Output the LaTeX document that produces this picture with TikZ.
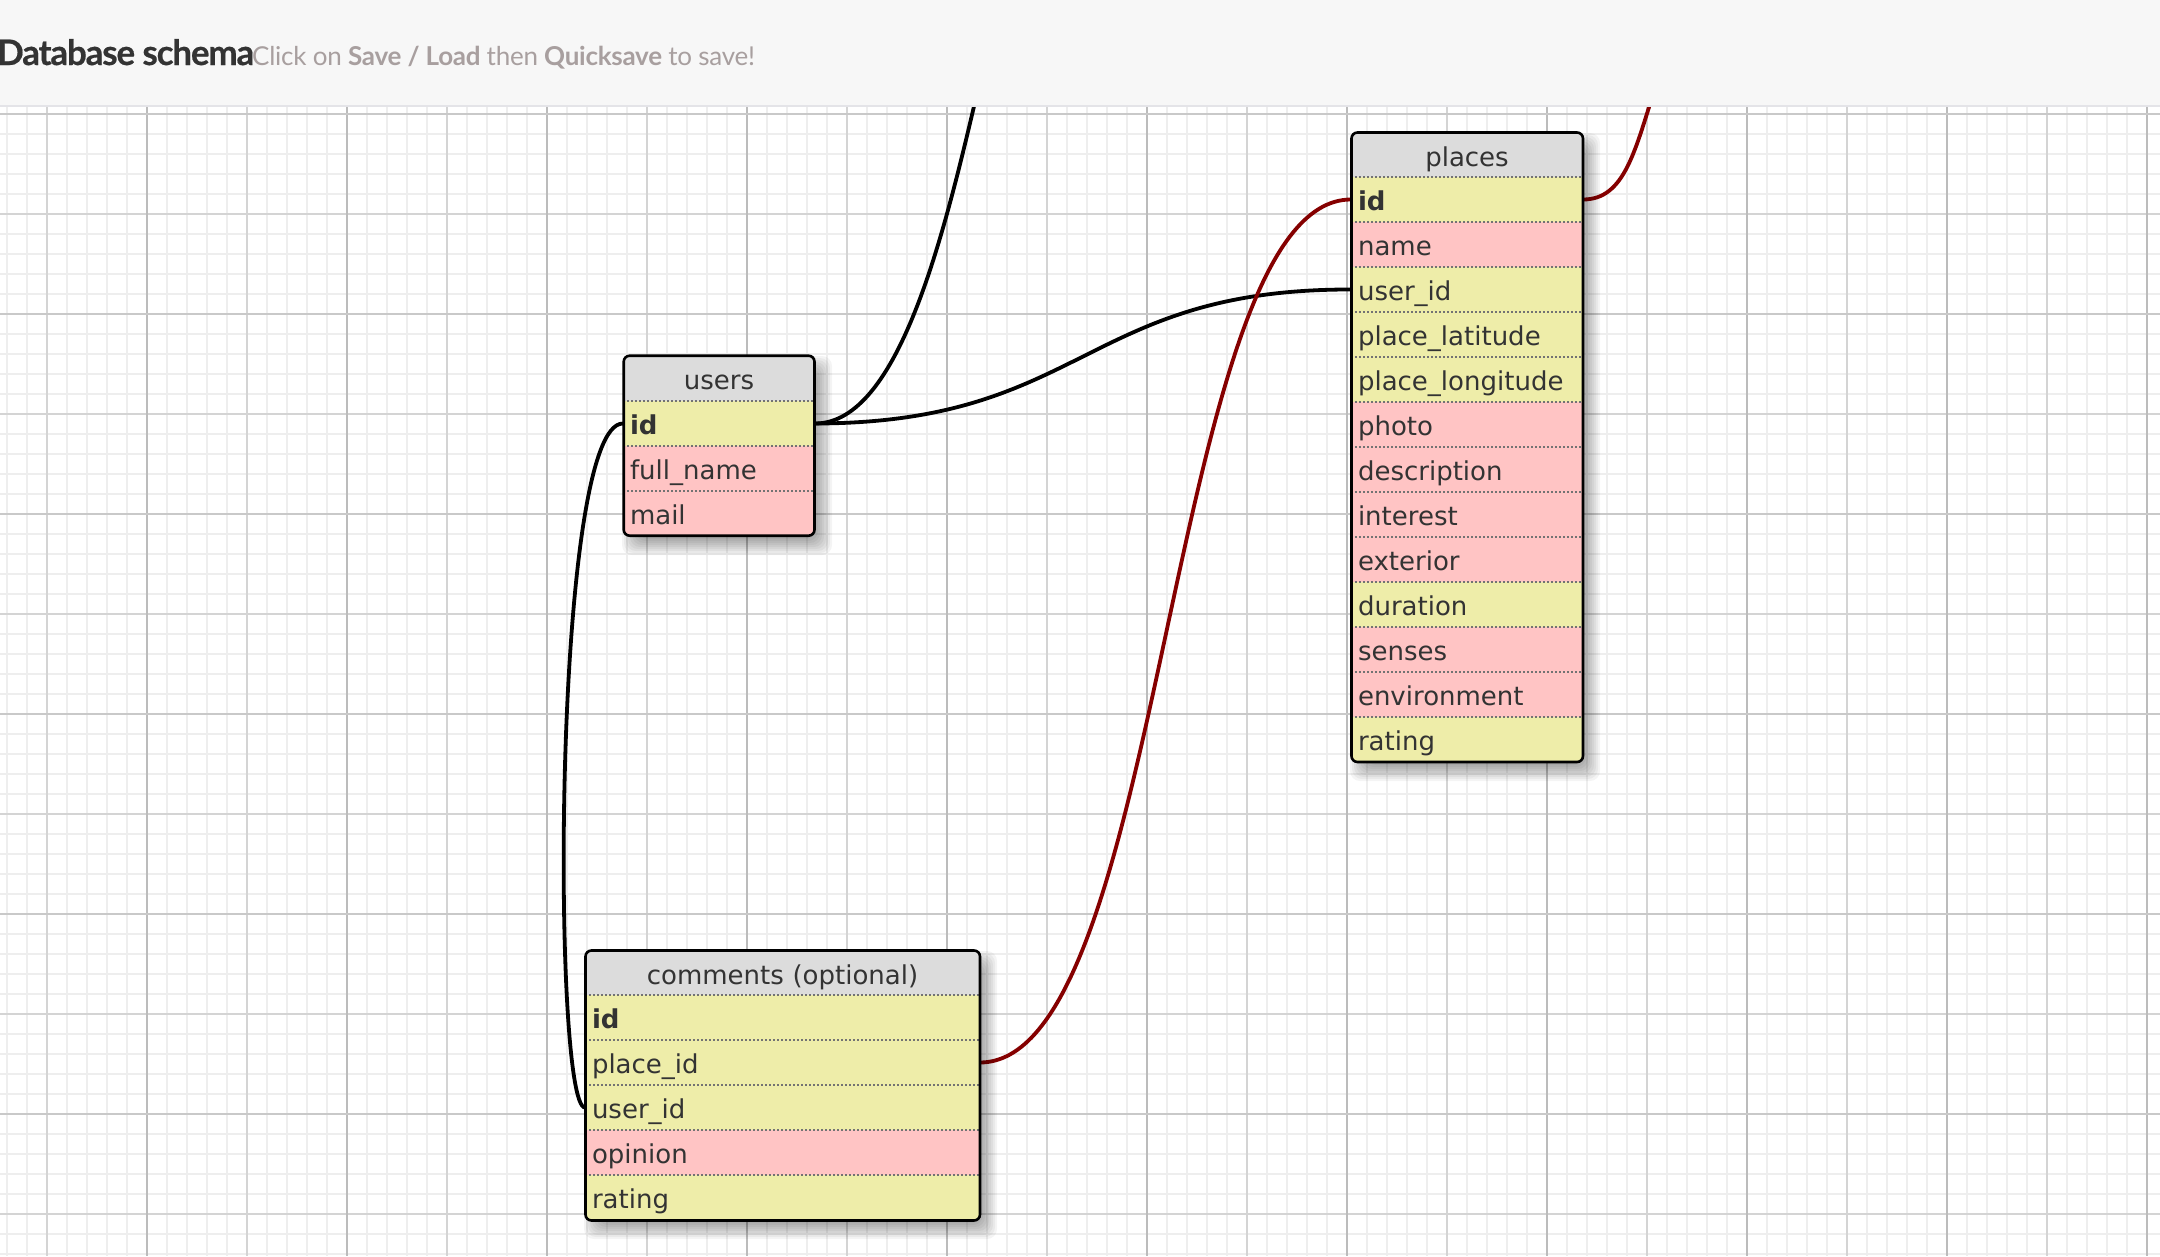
\documentclass[tikz,border=0pt]{standalone}
\usepackage{fontspec}
\setmainfont{DejaVu Sans}
\newfontfamily\titlefont[LetterSpace=-3.4,BoldFeatures={FakeBold=0.5}]{Lato}
\newfontfamily\hintfont[LetterSpace=-1]{Lato}
\definecolor{pagehead}{HTML}{F7F7F7}
\definecolor{headline}{HTML}{E4E4E8}
\definecolor{gridfine}{HTML}{EEEEEE}
\definecolor{gridmid}{HTML}{D4D4D4}
\definecolor{gridmajor}{HTML}{BCBCBC}
\definecolor{rowyellow}{HTML}{EEEDA9}
\definecolor{rowpink}{HTML}{FFC4C4}
\definecolor{rowtitle}{HTML}{DCDCDC}
\definecolor{inktext}{HTML}{333333}
\definecolor{hintgrey}{HTML}{A89F9F}
\definecolor{redlink}{HTML}{850000}
\pgfdeclarelayer{gridlayer}
\pgfdeclarelayer{linklayer}
\pgfdeclarelayer{shadowlayer}
\pgfdeclarelayer{toplayer}
\pgfsetlayers{gridlayer,linklayer,shadowlayer,main,toplayer}
\tikzset{
  cellbase/.style={anchor=north west,inner xsep=7pt,inner ysep=0pt,outer sep=0pt,
    text=inktext,font=\fontsize{26pt}{30pt}\selectfont,text height=33pt,text depth=12pt,
    text width=#1-14pt,align=left},
  yrow/.style={cellbase=#1,fill=rowyellow},
  prow/.style={cellbase=#1,fill=rowpink},
  trow/.style={cellbase=#1,fill=rowtitle,text height=34pt,text depth=12pt,align=center},
  rowrule/.style={draw=gray!90!black,line width=2pt,dash pattern=on 2pt off 2pt},
  tablebox/.style={draw=black,line width=2.6pt,rounded corners=6pt,anchor=north west,
    inner sep=0pt,outer sep=0pt},
  blacklink/.style={draw=black,line width=3.8pt},
  redlinkline/.style={draw=redlink,line width=3.8pt},
}
\newcommand{\softshadow}[4]{%
  \begin{pgfonlayer}{shadowlayer}
  \foreach \s in {0,2,...,18}{
    \fill[black,opacity=0.045,rounded corners=10pt]
      ({#1+8-9+\s},{#2+10-9+\s}) rectangle ({#1+#3+8+9-\s},{#2+#4+10+9-\s});
  }
  \end{pgfonlayer}}
\begin{document}
\begin{tikzpicture}[x=1pt,y=-1pt]
\useasboundingbox (0,0) rectangle (2160,1256);
\begin{pgfonlayer}{gridlayer}
  \fill[white] (0,0) rectangle (2160,1256);
  \foreach \x in {7,27,...,2160} \draw[gridfine,line width=2pt] (\x,0) -- (\x,1256);
  \foreach \y in {114,134,...,1256} \draw[gridfine,line width=2pt] (0,\y) -- (2160,\y);
  \foreach \x in {47,247,...,2160} \draw[gridmid,line width=2pt] (\x,0) -- (\x,1256);
  \foreach \y in {214,414,...,1256} \draw[gridmid,line width=2pt] (0,\y) -- (2160,\y);
  \foreach \x in {147,347,...,2160} \draw[gridmajor,line width=2pt] (\x,0) -- (\x,1256);
  \foreach \y in {114,314,...,1256} \draw[gridmajor!80!white,line width=2pt] (0,\y) -- (2160,\y);
\end{pgfonlayer}

% users
\softshadow{623}{355}{192}{181}
\begin{scope}
  \clip[rounded corners=6pt] (623,355) rectangle (815,536);
  \node[trow=192pt] (users-title) at (623,355) {users};
  \node[yrow=192pt] (users-id) at (623,401) {\textbf{id}};
  \node[prow=192pt] (users-name) at (623,446) {full\_name};
  \node[prow=192pt] (users-mail) at (623,491) {mail};
  \foreach \y in {401,446,491} \draw[rowrule] (623,\y) -- (815,\y);
\end{scope}
\node[tablebox,minimum width=190.8pt,minimum height=180pt] (users) at (623.7,355.7) {};

% places
\softshadow{1351}{132}{232}{630}
\begin{scope}
  \clip[rounded corners=6pt] (1351,132) rectangle (1583,762);
  \node[trow=232pt] (places-title) at (1351,132) {places};
  \node[yrow=232pt] (places-id) at (1351,177) {\textbf{id}};
  \node[prow=232pt] (places-name) at (1351,222) {name};
  \node[yrow=232pt] (places-user) at (1351,267) {user\_id};
  \node[yrow=232pt] (places-lat) at (1351,312) {place\_latitude};
  \node[yrow=232pt] (places-lon) at (1351,357) {place\_longitude};
  \node[prow=232pt] (places-photo) at (1351,402) {photo};
  \node[prow=232pt] (places-desc) at (1351,447) {description};
  \node[prow=232pt] (places-int) at (1351,492) {interest};
  \node[prow=232pt] (places-ext) at (1351,537) {exterior};
  \node[yrow=232pt] (places-dur) at (1351,582) {duration};
  \node[prow=232pt] (places-sen) at (1351,627) {senses};
  \node[prow=232pt] (places-env) at (1351,672) {environment};
  \node[yrow=232pt] (places-rat) at (1351,717) {rating};
  \foreach \y in {177,222,...,717} \draw[rowrule] (1351,\y) -- (1583,\y);
\end{scope}
\node[tablebox,minimum width=231.5pt,minimum height=629.5pt] (places) at (1351.5,132.5) {};

% comments
\softshadow{585}{950}{395}{270}
\begin{scope}
  \clip[rounded corners=6pt] (585,950) rectangle (980,1220);
  \node[trow=395pt] (comments-title) at (585,950) {comments (optional)};
  \node[yrow=395pt] (comments-id) at (585,995) {\textbf{id}};
  \node[yrow=395pt] (comments-place) at (585,1040) {place\_id};
  \node[yrow=395pt] (comments-user) at (585,1085) {user\_id};
  \node[prow=395pt] (comments-op) at (585,1130) {opinion};
  \node[yrow=395pt] (comments-rat) at (585,1175) {rating};
  \foreach \y in {995,1040,...,1175} \draw[rowrule] (585,\y) -- (980,\y);
\end{scope}
\node[tablebox,minimum width=394.5pt,minimum height=270pt] (comments) at (585.5,950.5) {};

% connectors
\coordinate (blackfree) at (979,85);
\coordinate (redfree) at (1656,85);
\begin{pgfonlayer}{linklayer}
  \draw[blacklink] (users-id.east) .. controls +(85,0) and (945,230) .. (blackfree);
  \draw[blacklink] (users-id.east) .. controls (1084,423) and (1084,289) .. (places-user.west);
  \draw[blacklink] (users-id.west) .. controls (552,423) and (552,1107) .. (comments-user.west);
  \draw[redlinkline] (places-id.west) .. controls (1167,199) and (1167,1062) .. (comments-place.east);
  \draw[redlinkline] (places-id.east) .. controls +(42,0) and (1635,150) .. (redfree);
\end{pgfonlayer}

% page header
\begin{pgfonlayer}{toplayer}
  \fill[pagehead] (0,0) rectangle (2160,105);
  \draw[headline,line width=2pt] (0,106) -- (2160,106);
  \node[anchor=base west,inner sep=0pt,text=inktext,font=\titlefont\fontsize{35pt}{39pt}\selectfont\bfseries]
    (pagetitle) at (-3,65) {Database schema};
  \node[anchor=base west,inner sep=0pt,text=hintgrey,font=\hintfont\fontsize{26pt}{30pt}\selectfont]
    (pagehint) at (252,65) {Click on \textbf{Save / Load} then \textbf{Quicksave} to save!};
\end{pgfonlayer}
\end{tikzpicture}
\end{document}
